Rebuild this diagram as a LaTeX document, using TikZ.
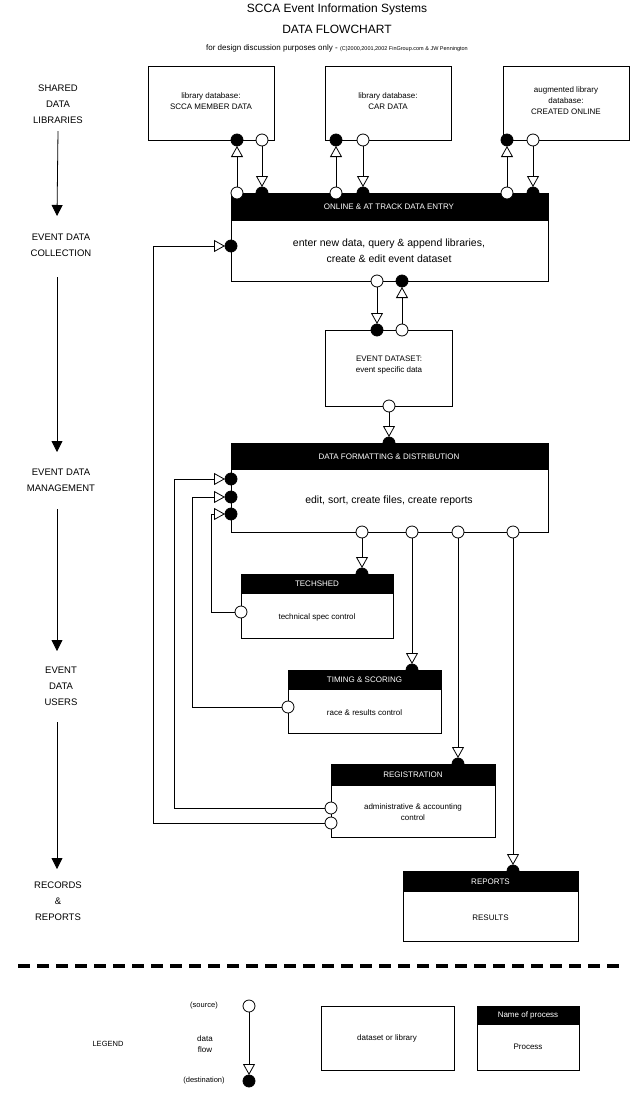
\documentclass[tikz,border=0pt]{standalone}
\usepackage{fontspec}
\setmainfont{Liberation Sans}
\usetikzlibrary{arrows.meta}
\begin{document}
\begin{tikzpicture}[x=1pt,y=-1pt,line width=0.8pt,
 box/.style={draw,fill=white},
 hdr/.style={fill=black,draw=black},
 htxt/.style={text=white,font=\fontsize{8}{9}\selectfont},
 btxt/.style={align=center,font=\fontsize{8}{11}\selectfont},
 src/.style={draw,fill=white,circle,inner sep=0pt,minimum size=12pt},
 dst/.style={draw,fill=black,circle,inner sep=0pt,minimum size=12pt},
 flow/.style={-{Triangle[open,length=11pt,width=12pt]},shorten >=6pt},
 lbl/.style={align=center,font=\fontsize{9.5}{16}\selectfont},
 stage/.style={-{Triangle[length=11pt,width=11pt]}}]
\useasboundingbox (0,0) rectangle (631,1108);
% title
\node[font=\fontsize{12}{14}\selectfont] (t1) at (337,9) {SCCA Event Information Systems};
\node[font=\fontsize{12}{14}\selectfont] (t2) at (337,29) {DATA FLOWCHART};
\node[font=\fontsize{8}{9}\selectfont] (t3) at (337,48) {for design discussion purposes only - {\fontsize{5.5}{6}\selectfont (C)2000,2001,2002 FinGroup.com \& JW Pennington}};
% stage labels
\node[lbl] (s1) at (58,104) {SHARED\\DATA\\LIBRARIES};
\node[lbl] (s2) at (61,245) {EVENT DATA\\COLLECTION};
\node[lbl] (s3) at (61,480) {EVENT DATA\\MANAGEMENT};
\node[lbl] (s4) at (61,686) {EVENT\\DATA\\USERS};
\node[lbl] (s5) at (58,901) {RECORDS\\\&\\REPORTS};
\draw[stage] (s1.south) ++(0,4) coordinate (a1) (a1) -- (57,216) coordinate (b1);
\draw[stage] (57,277) -- (57,452);
\draw[stage] (57,509) -- (57,651);
\draw[stage] (57,722) -- (57,869);
% library boxes
\foreach \n/\x/\t in {L1/148/{library database:\\SCCA MEMBER DATA},L2/325/{library database:\\CAR DATA},L3/503/{augmented library\\database:\\CREATED ONLINE}}{
 \draw[box] (\x,66) rectangle ++(126,74);
 \node[btxt] (\n) at (\x+63,101) {\t};
}
% entry box
\draw[box] (231,193) rectangle (548,281);
\fill (231,193) rectangle (548,221);
\node[htxt] (eh) at (389,207) {ONLINE \& AT TRACK DATA ENTRY};
\node[align=center,font=\fontsize{10.5}{16}\selectfont] (eb) at (389,251) {enter new data, query \& append libraries,\\create \& edit event dataset};
% dataset
\draw[box] (325,330) rectangle (452,406);
\node[btxt] (ds) at (389,365) {EVENT DATASET:\\event specific data};
% DF box
\draw[box] (231,443) rectangle (548,532);
\fill (231,443) rectangle (548,470);
\node[htxt] (dh) at (389,457) {DATA FORMATTING \& DISTRIBUTION};
\node[font=\fontsize{10.5}{12}\selectfont] (db) at (389,501) {edit, sort, create files, create reports};
% process boxes
\foreach \n/\xa/\ya/\xb/\yb/\hy/\h/\b in {
 T/241/574/393/638/594/TECHSHED/{technical spec control},
 S/288/670/441/733/690/TIMING \& SCORING/{race \& results control},
 R/331/764/495/837/786/REGISTRATION/{administrative \& accounting\\control},
 P/403/871/578/941/892/REPORTS / RESULTS/{entry lists, announcer,\\emergency services, results, etc}}{
 \draw[box] (\xa,\ya) rectangle (\xb,\yb);
 \fill (\xa,\ya) rectangle (\xb,\hy);
 \node[htxt] (\n h) at ({(\xa+\xb)/2},{(\ya+\hy)/2}) {\h};
 \node[btxt] (\n b) at ({(\xa+\xb)/2},{(\hy+\yb)/2+1}) {\b};
}
% ports
\foreach \n/\x/\y in {a1s/237/193,a2s/336/193,a3s/507/193,l1s/262/140,l2s/363/140,l3s/533/140,
 es/377/281,dss/402/330,dso/389/406,f1/362/532,f2/412/532,f3/458/532,f4/513/532,
 Ts/241/612,Ss/288/707,Rs1/331/808,Rs2/331/823,lgS/249/1006}
 \coordinate (\n) at (\x,\y);
\foreach \n/\x/\y in {a1d/237/140,a2d/336/140,a3d/507/140,l1d/262/193,l2d/363/193,l3d/533/193,
 ed/402/281,dsd/377/330,dfd/389/443,Td/362/574,Sd/412/670,Rd/458/764,Pd/513/871,
 e1/231/246,g1/231/479,g2/231/497,g3/231/514,lgD/249/1081}
 \coordinate (\n) at (\x,\y);
% flows
\foreach \a/\b in {a1s/a1d,a2s/a2d,a3s/a3d,l1s/l1d,l2s/l2d,l3s/l3d,es/dsd,dss/ed,dso/dfd,f1/Td,f2/Sd,f3/Rd,f4/Pd,lgS/lgD}
 \draw[flow] (\a) -- (\b);
\draw[flow] (Ts) -- (211,612) -- (211,514) -- (g3);
\draw[flow] (Ss) -- (192,707) -- (192,497) -- (g2);
\draw[flow] (Rs1) -- (174,808) -- (174,479) -- (g1);
\draw[flow] (Rs2) -- (153,823) -- (153,246) -- (e1);
% circles
\foreach \n in {a1s,a2s,a3s,l1s,l2s,l3s,es,dss,dso,f1,f2,f3,f4,Ts,Ss,Rs1,Rs2,lgS}
 \node[src] at (\n) {};
\foreach \n in {a1d,a2d,a3d,l1d,l2d,l3d,ed,dsd,dfd,Td,Sd,Rd,Pd,e1,g1,g2,g3,lgD}
 \node[dst] at (\n) {};
% divider
\draw[line width=3.5pt,dash pattern=on 12pt off 7pt] (18,966) -- (620,966);
% legend
\node[font=\fontsize{7.5}{9}\selectfont] (lg) at (108,1044) {LEGEND};
\node[font=\fontsize{7.5}{9}\selectfont] (so) at (204,1006) {(source)};
\node[font=\fontsize{7.5}{9}\selectfont] (de) at (204,1081) {(destination)};
\node[btxt] (df) at (205,1044) {data\\flow};
\draw[box] (321,1006) rectangle (454,1070);
\node[btxt] (dl) at (387,1038) {dataset or library};
\draw[box] (477,1006) rectangle (579,1070);
\fill (477,1006) rectangle (579,1025);
\node[htxt] (np) at (528,1015) {Name of process};
\node[btxt] (pr) at (528,1047) {Process};
\end{tikzpicture}
\end{document}
